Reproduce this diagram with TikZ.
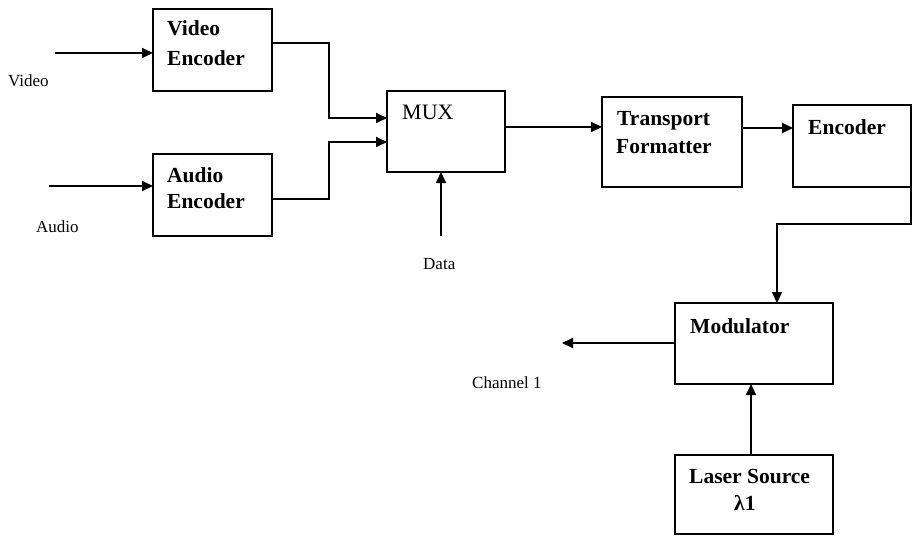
\documentclass[tikz,border=0pt]{standalone}
\usepackage{fontspec}
\setmainfont{Liberation Serif}
\usetikzlibrary{arrows.meta}
\tikzset{
  blk/.style={draw, line width=1.9pt, rectangle, inner sep=0pt, outer sep=0pt},
  arr/.style={line width=1.9pt, -{Triangle[length=11pt,width=10pt]}},
  btxt/.style={anchor=base west, inner sep=0pt, font=\fontsize{21.5}{24}\selectfont\bfseries},
  ltxt/.style={anchor=base west, inner sep=0pt, font=\fontsize{17}{20}\selectfont},
}
\begin{document}
\begin{tikzpicture}[x=1pt,y=-1pt]
\useasboundingbox (0,0) rectangle (912,535);
% boxes
\node[blk, minimum width=119pt, minimum height=82pt] (ve) at (212.5,50) {};
\node[blk, minimum width=119pt, minimum height=82pt] (ae) at (212.5,195) {};
\node[blk, minimum width=118pt, minimum height=81pt] (mux) at (446,131.5) {};
\node[blk, minimum width=140pt, minimum height=90pt] (tf) at (672,142) {};
\node[blk, minimum width=118pt, minimum height=82pt] (enc) at (852,146) {};
\node[blk, minimum width=158pt, minimum height=81pt] (mod) at (754,343.5) {};
\node[blk, minimum width=158pt, minimum height=79pt] (ls) at (754,494.5) {};
% box texts
\node[btxt] (t1) at (167,36) {Video};
\node[btxt] (t2) at (167,66) {Encoder};
\node[btxt] (t3) at (167,182) {Audio};
\node[btxt] (t4) at (167,208) {Encoder};
\node[anchor=base west, inner sep=0pt, font=\fontsize{22}{24}\selectfont] (t5) at (402,119) {MUX};
\node[btxt] (t6) at (617,125) {Transport};
\node[btxt] (t7) at (616,153) {Formatter};
\node[btxt] (t8) at (808,134) {Encoder};
\node[btxt] (t9) at (690,333) {Modulator};
\node[btxt] (t10) at (689,483) {Laser Source};
\node[btxt] (t11) at (734,510) {λ1};
% outside labels
\node[ltxt] (lv) at (8,86) {Video};
\node[ltxt] (la) at (36,232) {Audio};
\node[ltxt] (ld) at (423,269) {Data};
\node[ltxt] (lc) at (472,388) {Channel 1};
% free ends and joints
\coordinate (vin) at (55,53);
\coordinate (ain) at (49,186);
\coordinate (din) at (441,236);
\coordinate (cout) at (562,343);
\coordinate (j1) at (329,0);
\coordinate (j2) at (0,224);
% connectors
\draw[arr] (vin) -- (vin -| ve.west);
\draw[arr] (ain) -- (ain -| ae.west);
\draw[arr] ([yshift=7pt]ve.east) -- ([yshift=7pt]ve.east -| j1) |- ([yshift=13.5pt]mux.west);
\draw[arr] ([yshift=-4pt]ae.east) -- ([yshift=-4pt]ae.east -| j1) |- ([yshift=-10.5pt]mux.west);
\draw[arr] (din) -- (din |- mux.south);
\draw[arr] ([yshift=4.5pt]mux.east) -- ([yshift=4.5pt]mux.east -| tf.west);
\draw[arr] ([yshift=14pt]tf.east) -- ([yshift=14pt]tf.east -| enc.west);
\draw[arr] (enc.south east) -- (enc.south east |- j2) -| ([xshift=23pt]mod.north);
\draw[arr] (mod.west |- cout) -- (cout);
\draw[arr] ([xshift=-3pt]ls.north) -- ([xshift=-3pt]mod.south);
\end{tikzpicture}
\end{document}
